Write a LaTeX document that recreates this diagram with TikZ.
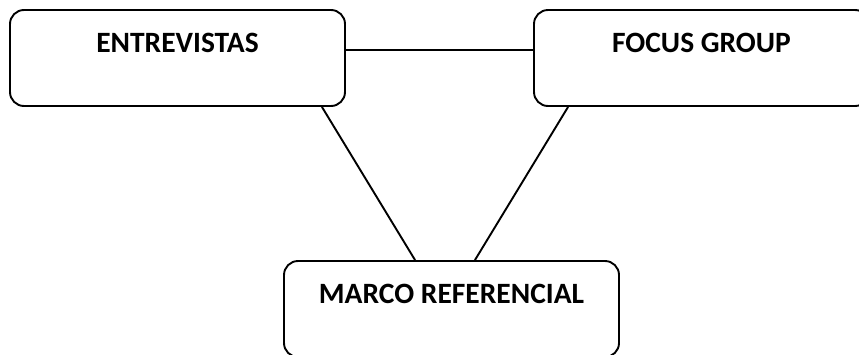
\documentclass[tikz,border=0pt]{standalone}
\usepackage{fontspec}
\setmainfont{Carlito}

\tikzset{
  caja/.style={draw, rounded corners=14pt, line width=1.9pt,
    minimum width=335pt, inner xsep=0pt, inner ysep=0pt,
    text height=42pt, text depth=54pt,
    font=\fontsize{29.5}{35}\selectfont\bfseries},
  enlace/.style={line width=1.9pt}
}

\begin{document}
\begin{tikzpicture}[x=1pt, y=-1pt]

\useasboundingbox (0,0) rectangle (859,354);

\node[caja] (ent) at (177.5,58) {ENTREVISTAS};
\node[caja] (foc) at (701.5,58) {FOCUS GROUP};
\node[caja] (mar) at (451.5,309) {MARCO REFERENCIAL};

\draw[enlace] (ent.mid east)--(foc.mid west);

\draw[enlace] ([xshift=-24pt]ent.south east)--([xshift=132pt]mar.north west);
\draw[enlace] ([xshift=35pt]foc.south west)--([xshift=-145pt]mar.north east);

\end{tikzpicture}
\end{document}
